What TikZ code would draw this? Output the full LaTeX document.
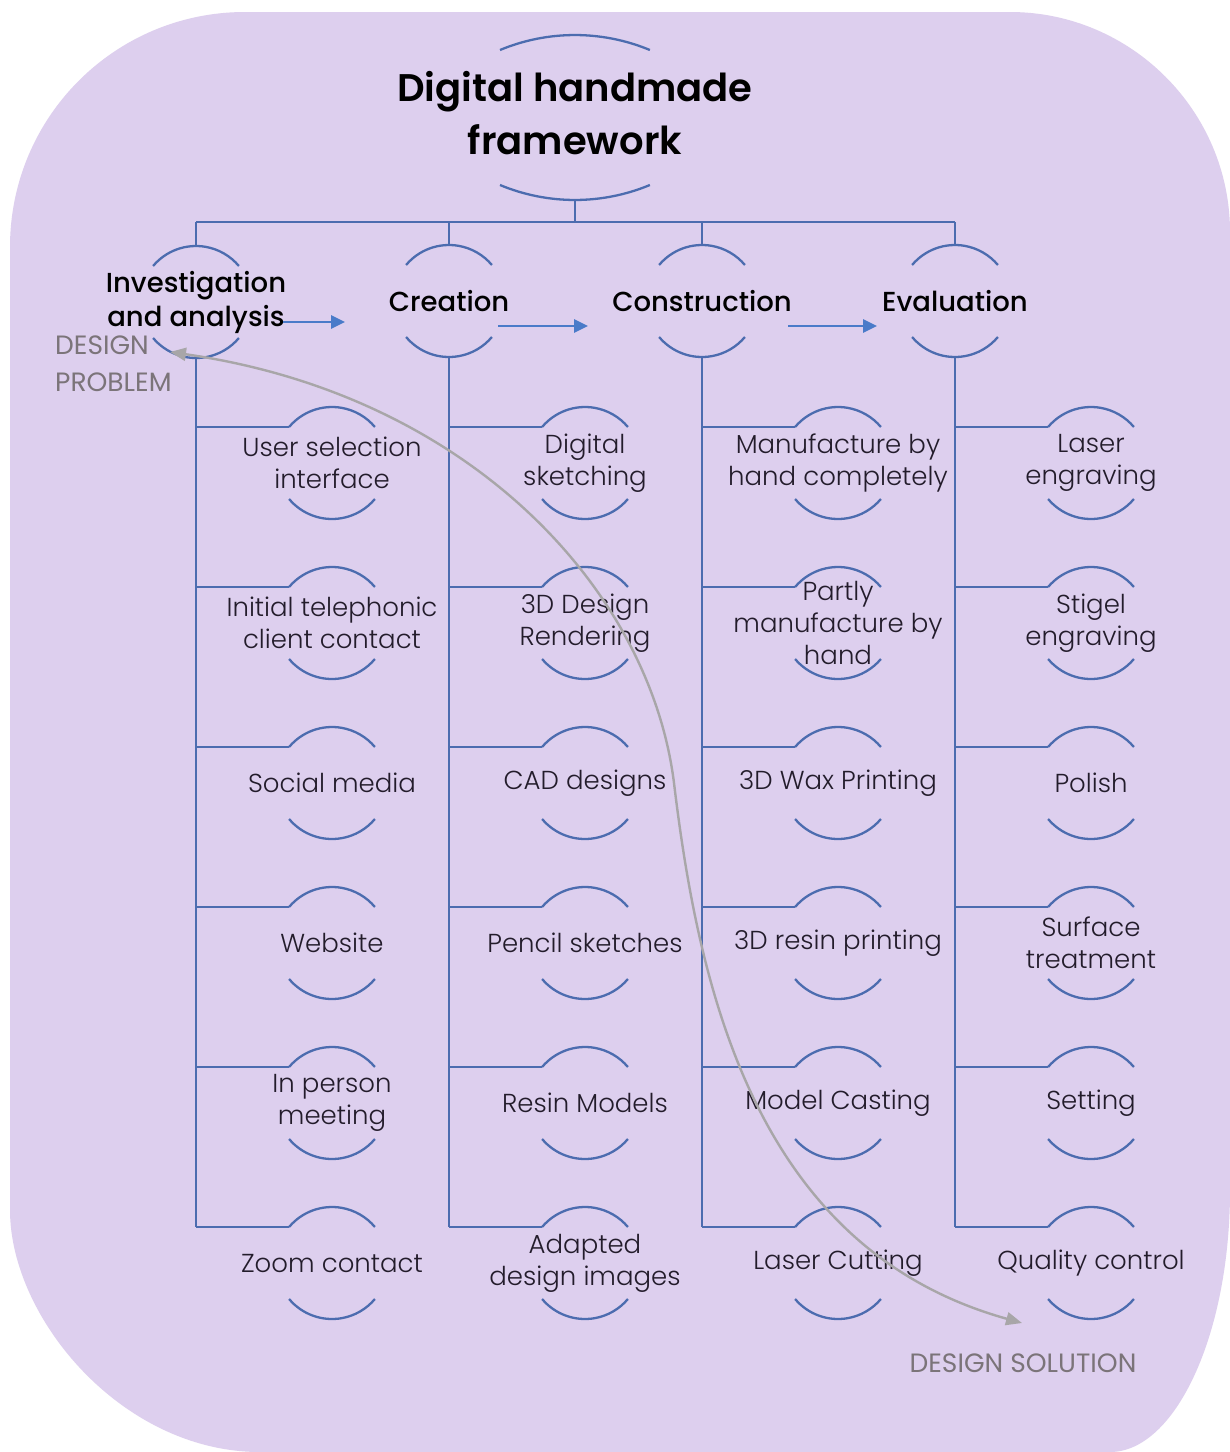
\documentclass[tikz,border=0pt]{standalone}
\usepackage{fontspec}
\setmainfont{Poppins}
\newfontfamily\lightfont{Poppins Light}
\newfontfamily\mediumfont{Poppins Medium}
\newfontfamily\strongfont{Poppins SemiBold}
\usetikzlibrary{arrows.meta,calc}
\definecolor{lav}{HTML}{DDCFEE}
\definecolor{frame}{HTML}{4C6CAF}
\definecolor{flow}{HTML}{4A7BC9}
\definecolor{ink}{HTML}{231C2B}
\definecolor{cuegray}{HTML}{7B7479}
\definecolor{trail}{HTML}{A8A6A8}
\begin{document}
\begin{tikzpicture}[x=1pt,y=-1pt,
  tree/.style={draw=frame,line width=2.8pt},
  bracket/.style={draw=frame,line width=2.3pt},
  item/.style={font=\lightfont\fontsize{26}{32}\selectfont,text=ink,align=center,inner sep=0pt},
  head/.style={font=\mediumfont\fontsize{27.5}{34}\selectfont,text=black,align=center,inner sep=0pt},
  titlebox/.style={font=\strongfont\fontsize{38.5}{53}\selectfont,text=black,align=center,inner sep=0pt},
  cue/.style={font=\fontsize{26.5}{37}\selectfont,text=cuegray,inner sep=0pt},
  flowarrow/.style={draw=flow,line width=2.6pt,-{Triangle[length=14pt,width=13pt]}},
  trailarrow/.style={draw=trail,line width=2.4pt,{Triangle[length=16pt,width=13pt]}-{Triangle[length=16pt,width=13pt]}},
]
\useasboundingbox (0,0) rectangle (1230,1452);
\fill[white] (0,0) rectangle (1230,1452);
% rounded lavender panel
\fill[lav] (10,247) .. controls (10,117) and (115,12) .. (245,12)
  -- (1010,12) .. controls (1131,12) and (1230,111) .. (1230,232)
  -- (1230,1190) .. controls (1230,1335) and (1175,1452) .. (1110,1452)
  -- (260,1452) .. controls (122,1452) and (10,1318) .. (10,1210) -- cycle;

% title
\node[titlebox] (title) at (575,113) {Digital handmade\\framework};
\draw[bracket] ($(title.center)+(-75,-63)$) arc[start angle=247.4,end angle=292.6,radius=195];
\draw[bracket] ($(title.center)+(-75,72)$) arc[start angle=112.6,end angle=67.4,radius=195];
\coordinate (bar) at ($(title.center)+(0,109)$);
\draw[tree] ($(title.center)+(0,87)$) -- (bar);

% phase headings
\node[head] (h1) at (196,302) {Investigation\\and analysis};
\node[head] (h2) at (449,301) {Creation};
\node[head] (h3) at (702,301) {Construction};
\node[head] (h4) at (955,301) {Evaluation};
\draw[tree] (h1.center |- bar) -- (h4.center |- bar);

% items
\node[item] (i11) at (332,463) {User selection\\interface};
\node[item] (i12) at (332,623) {Initial telephonic\\client contact};
\node[item] (i13) at (332,783) {Social media};
\node[item] (i14) at (332,943) {Website};
\node[item] (i15) at (332,1103) {In person\\meeting};
\node[item] (i16) at (332,1263) {Zoom contact};
\node[item] (i21) at (585,463) {Digital\\sketching};
\node[item] (i22) at (585,623) {3D Design\\Rendering};
\node[item] (i23) at (585,783) {CAD designs};
\node[item] (i24) at (585,943) {Pencil sketches};
\node[item] (i25) at (585,1103) {Resin Models};
\node[item] (i26) at (585,1263) {Adapted\\design images};
\node[item] (i31) at (838,463) {Manufacture by\\hand completely};
\node[item] (i32) at (838,623) {Partly\\manufacture by\\hand};
\node[item] (i33) at (838,783) {3D Wax Printing};
\node[item] (i34) at (838,943) {3D resin printing};
\node[item] (i35) at (838,1103) {Model Casting};
\node[item] (i36) at (838,1263) {Laser Cutting};
\node[item] (i41) at (1091,463) {Laser\\engraving};
\node[item] (i42) at (1091,623) {Stigel\\engraving};
\node[item] (i43) at (1091,783) {Polish};
\node[item] (i44) at (1091,943) {Surface\\treatment};
\node[item] (i45) at (1091,1103) {Setting};
\node[item] (i46) at (1091,1263) {Quality control};

\foreach \c in {1,2,3,4}{
  \draw[bracket] ([shift={(220:56)}]h\c.center) arc[start angle=220,end angle=320,radius=56];
  \draw[bracket] ([shift={(140:56)}]h\c.center) arc[start angle=140,end angle=40,radius=56];
  \draw[tree] ($(h\c.center)+(0,-56)$) -- (h\c.center |- bar);
  \foreach \r in {1,...,6}{
    \coordinate (k\c\r) at ([shift={(220:56)}]i\c\r.center);
    \draw[bracket] (k\c\r) arc[start angle=220,end angle=320,radius=56];
    \draw[bracket] ([shift={(140:56)}]i\c\r.center) arc[start angle=140,end angle=40,radius=56];
    \draw[tree] (h\c.center |- k\c\r) -- (k\c\r);
  }
  \draw[tree] ($(h\c.center)+(0,56)$) -- (h\c.center |- k\c6);
}

% phase order
\draw[flowarrow] ($(h1.center)+(87,20)$) -- ($(h2.center)+(-104,21)$);
\draw[flowarrow] ($(h2.center)+(49,25)$) -- ($(h3.center)+(-114,25)$);
\draw[flowarrow] ($(h3.center)+(86,25)$) -- ($(h4.center)+(-78,25)$);

% problem to solution
\node[cue,anchor=west,align=left] (prob) at (55,364) {DESIGN\\PROBLEM};
\node[cue] (sol) at (1023,1363) {DESIGN SOLUTION};
\coordinate (start) at (170,352);
\coordinate (finish) at (1022,1323);
\draw[trailarrow] (start) .. controls (470,395) and (650,590) .. (674,783)
  .. controls (700,1000) and (760,1250) .. (finish);
\end{tikzpicture}
\end{document}
